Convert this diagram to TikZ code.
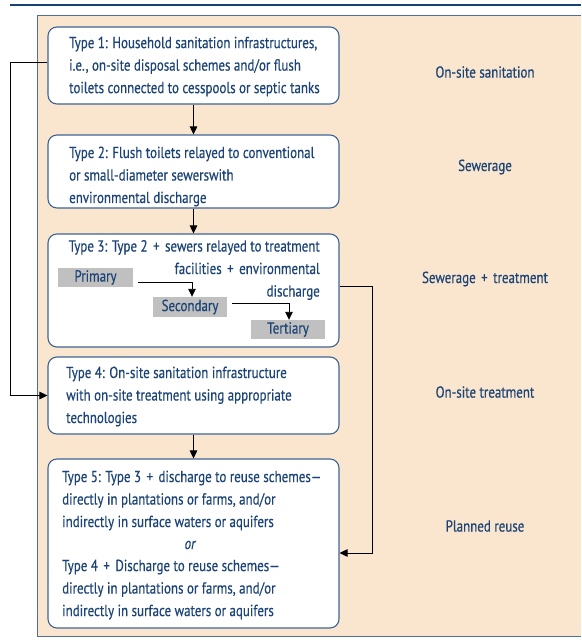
\documentclass[tikz,border=0pt]{standalone}
\usepackage{fontspec}
\setmainfont{PT Sans}[FakeStretch=0.81, FakeBold=0.4]
\usetikzlibrary{arrows.meta}

\begin{document}
\begin{tikzpicture}[x=1pt, y=-1pt,
  cajab/.style={draw=bordeaz, fill=white, line width=1.1pt, rounded corners=9pt, inner sep=0pt},
  grisc/.style={fill=grisf, inner sep=0pt, font=\letra, text=azult},
  texto/.style={font=\letra, text=azult, inner sep=0pt, align=left, anchor=west},
  etiq/.style={font=\letra, text=azult, inner sep=0pt},
  flecha/.style={black, line width=0.9pt, -{Triangle[length=8pt,width=7.5pt]}}]

\definecolor{azult}{RGB}{28,68,118}
\definecolor{azulo}{RGB}{24,66,115}
\definecolor{bordeaz}{RGB}{62,100,148}
\definecolor{bordep}{RGB}{80,110,150}
\definecolor{beigef}{RGB}{250,230,206}
\definecolor{grisf}{RGB}{192,192,192}

\def\letra{\fontsize{16pt}{22.5pt}\selectfont}
\def\mas{\hspace{2pt}+\hspace{2pt}}

\useasboundingbox (0,0) rectangle (581,644);

% Linea superior y fondo
\draw[azulo, line width=2.5pt] (10,5) -- (581,5);
\fill[beigef] (37,16) rectangle (581,636);
\draw[bordep, line width=1pt] (581,16) -- (37,16) -- (37,636) -- (581,636);

% === CAJAS ===
\node[cajab, minimum width=291pt, minimum height=77pt]  (t1) at (193.5,65.5)  {};
\node[cajab, minimum width=291pt, minimum height=73pt]  (t2) at (193.5,171.5) {};
\node[cajab, minimum width=291pt, minimum height=113pt] (t3) at (193.5,290.5) {};
\node[cajab, minimum width=291pt, minimum height=77pt]  (t4) at (193.5,395.5) {};
\node[cajab, minimum width=291pt, minimum height=169pt] (t5) at (193.5,543.5) {};

% Etapas del tratamiento
\node[grisc, minimum width=75pt, minimum height=19pt] (prim) at (95.5,277.5) {Primary};
\node[grisc, minimum width=74pt, minimum height=20pt] (sec)  at (190,307)    {Secondary};
\node[grisc, minimum width=74pt, minimum height=19pt] (ter)  at (288,329.5)  {Tertiary};

% === FLECHAS ===
\draw[flecha] (t1.south) -- (t2.north);
\draw[flecha] (t2.south) -- (t3.north);
\draw[flecha] (t4.south) -- (t5.north);
\draw[flecha] ([xshift=5pt,yshift=-4.5pt]prim.east) -| ([xshift=2pt]sec.north);
\draw[flecha] ([xshift=5pt,yshift=4pt]sec.east) -| ([xshift=1pt]ter.north);
\draw[flecha] ([yshift=3.5pt]t1.west) -- ++(-37,0) |- (t4.west);
\draw[flecha] ([yshift=4.5pt]t3.east) -- ++(33,0) |- ([yshift=-9.5pt]t5.east);

% === TEXTOS ===
\node[texto] (t1txt) at (69,66.5)
  {Type 1: Household sanitation infrastructures,\\
   i.e., on-site disposal schemes and/or flush\\
   toilets connected to cesspools or septic tanks};
\node[texto] (t2txt) at (69,176.5)
  {Type 2: Flush toilets relayed to conventional\\
   or small-diameter sewerswith\\
   environmental discharge};
\node[texto, align=right, anchor=east] (t3txt) at (320,270)
  {Type 3: Type 2 \mas{} sewers relayed to treatment\\
   facilities \mas{} environmental\\
   discharge};
\node[texto] (t4txt) at (66,396.5)
  {Type 4: On-site sanitation infrastructure\\
   with on-site treatment using appropriate\\
   technologies};
\node[texto] (t5a) at (62,500.5)
  {Type 5: Type 3 \mas{} discharge to reuse schemes—\\
   directly in plantations or farms, and/or\\
   indirectly in surface waters or aquifers};
\node[etiq, font=\letra\itshape] (t5o) at (190,545) {or};
\node[texto] (t5b) at (62,589.5)
  {Type 4 \mas{} Discharge to reuse schemes—\\
   directly in plantations or farms, and/or\\
   indirectly in surface waters or aquifers};

% Etiquetas a la derecha
\node[etiq] (l1) at (485,72)  {On-site sanitation};
\node[etiq] (l2) at (485,167) {Sewerage};
\node[etiq] (l3) at (485,279) {Sewerage \mas{} treatment};
\node[etiq] (l4) at (485,392) {On-site treatment};
\node[etiq] (l5) at (485,526) {Planned reuse};

\end{tikzpicture}
\end{document}
